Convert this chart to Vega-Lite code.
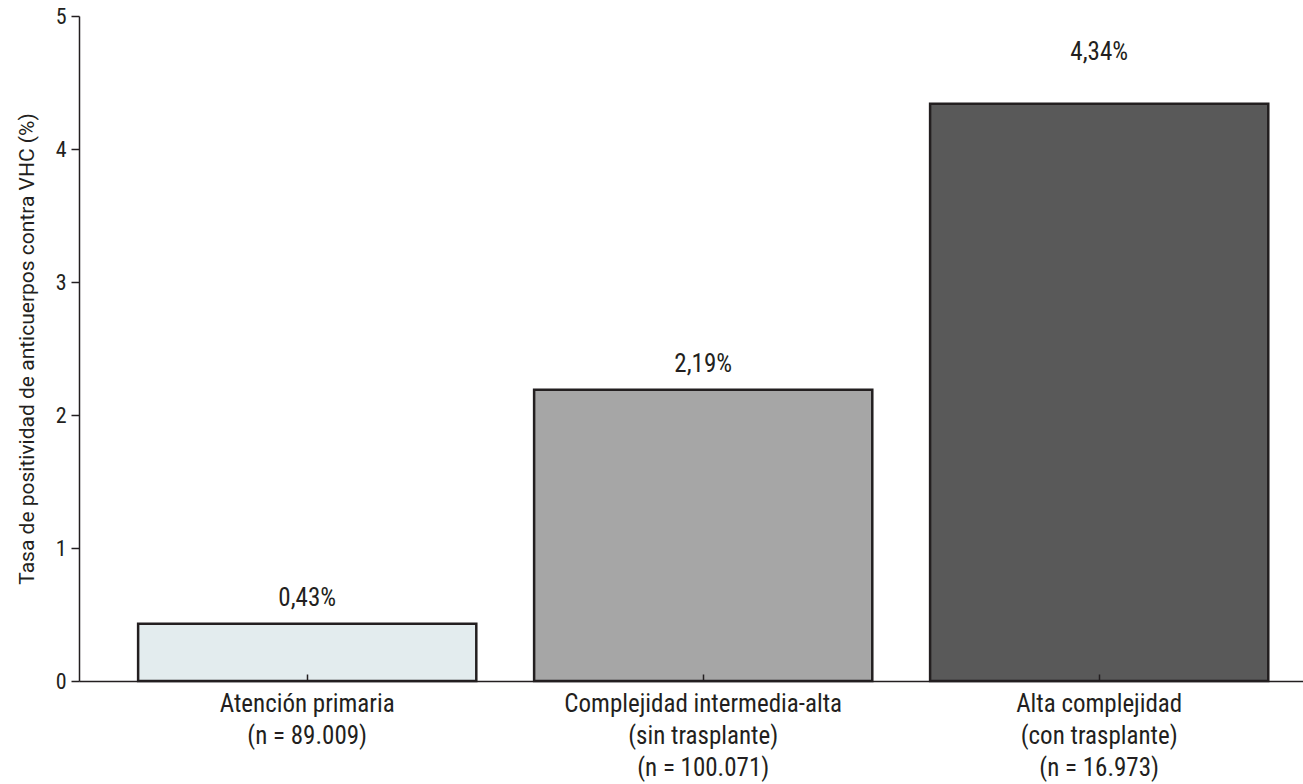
{
  "$schema": "https://vega.github.io/schema/vega-lite/v6.json",
  "width": 1224,
  "height": 665,
  "autosize": {"type": "none"},
  "padding": {"left": 79, "top": 16, "right": 0, "bottom": 103},
  "background": "white",
  "config": {
    "view": {"stroke": null},
    "font": "'Roboto Condensed', 'DejaVu Sans Condensed', Roboto, sans-serif",
    "axis": {"grid": false, "domainColor": "#231f20", "tickColor": "#231f20", "labelColor": "#231f20", "titleColor": "#231f20", "labelFont": "'Roboto Condensed', 'DejaVu Sans Condensed', Roboto, sans-serif", "titleFont": "Roboto, sans-serif", "domainWidth": 1.5, "tickWidth": 1.5, "labelLimit": 0}
  },
  "data": {
    "values": [
      {"nivel": "Atención primaria|(n = 89.009)", "tasa": 0.43, "etiqueta": "0,43%", "grupo": "a"},
      {"nivel": "Complejidad intermedia-alta|(sin trasplante)|(n = 100.071)", "tasa": 2.19, "etiqueta": "2,19%", "grupo": "a"},
      {"nivel": "Alta complejidad|(con trasplante)|(n = 16.973)", "tasa": 4.34, "etiqueta": "4,34%", "grupo": "b"}
    ]
  },
  "encoding": {
    "x": {
      "field": "nivel", "type": "nominal", "sort": null,
      "scale": {"paddingInner": 0.146, "paddingOuter": 0.1185, "align": 0.63},
      "axis": {"title": null, "labelAngle": 0, "labelExpr": "split(datum.label, '|')", "labelFontSize": 25, "labelLineHeight": 32, "tickSize": -7, "labelPadding": 17, "labelBaseline": "top", "labelLimit": 0, "zindex": 1}
    },
    "y": {
      "field": "tasa", "type": "quantitative",
      "scale": {"domain": [0, 5], "nice": false},
      "axis": {"title": "Tasa de positividad de anticuerpos contra VHC (%)", "values": [0, 1, 2, 3, 4, 5], "tickSize": 8, "labelPadding": 5, "labelFontSize": 22, "titleFontSize": 21, "titleFontWeight": "normal", "titlePadding": 18, "format": "d"}
    }
  },
  "layer": [
    {
      "mark": {"type": "bar", "stroke": "#231f20", "strokeWidth": 2.5},
      "encoding": {
        "color": {"field": "nivel", "type": "nominal", "sort": null, "scale": {"range": ["#e3ecee", "#a6a6a6", "#595959"]}, "legend": null}
      }
    },
    {
      "transform": [{"filter": "datum.grupo == 'a'"}],
      "mark": {"type": "text", "baseline": "middle", "dy": -26, "fontSize": 25, "color": "#231f20"},
      "encoding": {"text": {"field": "etiqueta"}}
    },
    {
      "transform": [{"filter": "datum.grupo == 'b'"}],
      "mark": {"type": "text", "baseline": "middle", "dy": -52, "fontSize": 25, "color": "#231f20"},
      "encoding": {"text": {"field": "etiqueta"}}
    }
  ]
}
